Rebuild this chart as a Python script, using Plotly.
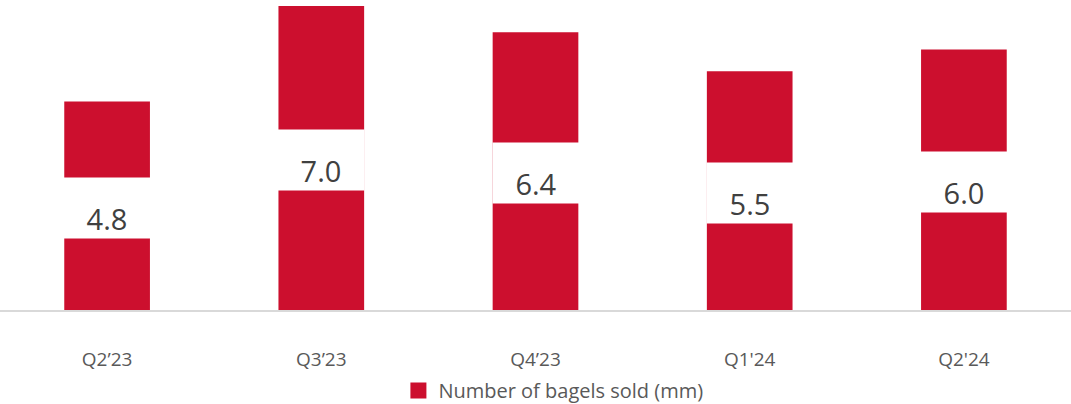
import plotly.graph_objects as go

categories = ["Q2’23", "Q3’23", "Q4’23", "Q1'24", "Q2'24"]
values = [4.8, 7.0, 6.4, 5.5, 6.0]
labels = ["4.8", "7.0", "6.4", "5.5", "6.0"]
series_name = "Number of bagels sold (mm)"

BAR = "#CC0F2E"
fig = go.Figure()
fig.add_trace(go.Bar(x=categories, y=values, name=series_name, marker_color=BAR,
                     marker_line_width=0, width=0.4, hoverinfo="skip", showlegend=False))
# legend entry
fig.add_trace(go.Scatter(x=[categories[0]], y=[None], mode="markers", name=series_name,
                         marker=dict(symbol="square", size=18, color=BAR), showlegend=True,
                         hoverinfo="skip"))

for c, v, t in zip(categories, values, labels):
    fig.add_annotation(x=c, y=v / 2, text=t, showarrow=False, bgcolor="white",
                       width=86, height=60, valign="bottom", borderpad=0,
                       yshift=-2,
                       font=dict(family="Open Sans", size=29, color="#404040"))

fig.update_layout(
    width=1071, height=404,
    margin=dict(l=0, r=0, t=0, b=94, autoexpand=False),
    paper_bgcolor="white", plot_bgcolor="white",
    showlegend=True,
    legend=dict(orientation="h", x=0.372, xanchor="left", y=-0.197, yanchor="top",
                font=dict(family="Open Sans", size=20, color="#595959"),
                itemwidth=30),
    xaxis=dict(showgrid=False, showline=True, linecolor="#D9D9D9", linewidth=1.5,
               ticks="", tickfont=dict(family="Open Sans", size=19, color="#595959"),
               ticklabelstandoff=31, automargin=False),
    yaxis=dict(range=[0, 7.14], visible=False, showgrid=False, zeroline=False,
               automargin=False),
)
fig.write_html("out.html", config={"displayModeBar": False},
               post_script="document.body.style.margin='0px';")
